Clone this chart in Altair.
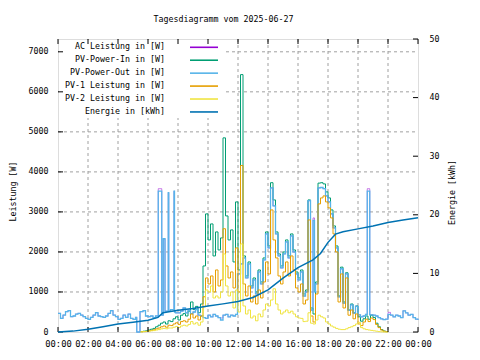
import altair as alt
import pandas as pd

title_text = "Tagesdiagramm vom 2025-06-27"
legend_labels = ["AC Leistung in [W]", "PV-Power-In in [W]", "PV-Power-Out in [W]",
                 "PV-1 Leistung in [W]", "PV-2 Leistung in [W]", "Energie in [kWh]"]
colors = ["#9400d3", "#009e73", "#56b4e9", "#e69f00", "#f0e442", "#0072b2"]

x_ticks = [0, 2, 4, 6, 8, 10, 12, 14, 16, 18, 20, 22, 24]
x_grid = [2, 4, 6, 8, 10, 12, 14, 16, 18, 20, 22]
w_ticks = [0, 1000, 2000, 3000, 4000, 5000, 6000, 7000]
w_grid = [1000, 2000, 3000, 4000, 5000, 6000, 7000]
e_ticks = [0, 10, 20, 30, 40, 50]

# PV-Power-Out / AC (W), irregular time stamps
out_times = [
    "00:00", "00:10", "00:20", "00:30", "00:40", "00:50",
    "01:00", "01:10", "01:20", "01:30", "01:40", "01:50",
    "02:00", "02:10", "02:20", "02:30", "02:40", "02:50",
    "03:00", "03:10", "03:20", "03:30", "03:40", "03:50",
    "04:00", "04:10", "04:20", "04:30", "04:40", "04:50",
    "05:00", "05:10", "05:15", "05:28", "05:40", "05:50",
    "06:00", "06:10", "06:20", "06:30", "06:41", "06:55",
    "07:01", "07:08", "07:21", "07:23", "07:30", "07:44", "07:46", "07:50",
    "08:00", "08:10", "08:20", "08:30", "08:40", "08:50",
    "09:00", "09:10", "09:20", "09:30", "09:40", "09:50",
    "10:00", "10:10", "10:20", "10:30", "10:40", "10:50",
    "11:00", "11:10", "11:20", "11:30", "11:40", "11:50", "11:58",
    "12:10", "12:20", "12:30", "12:40", "12:50",
    "13:00", "13:10", "13:20", "13:30", "13:40", "13:50",
    "14:00", "14:10", "14:20", "14:30", "14:40", "14:50",
    "15:00", "15:10", "15:20", "15:30", "15:40", "15:50",
    "16:00", "16:10", "16:20", "16:30", "16:40", "16:50",
    "17:00", "17:06", "17:10", "17:20", "17:30", "17:40", "17:50",
    "18:00", "18:10", "18:20", "18:30", "18:40", "18:50",
    "19:00", "19:10", "19:20", "19:30", "19:40", "19:50",
    "20:00", "20:10", "20:20", "20:30", "20:37", "20:47",
    "21:00", "21:10", "21:20", "21:30", "21:40", "21:50",
    "22:00", "22:10", "22:20", "22:30", "22:40", "22:50",
    "23:00", "23:10", "23:20", "23:30", "23:40", "23:50",
    "24:00",
]
pv_out = [
    466, 341, 424, 507, 532, 382,
    400, 449, 466, 424, 382, 341,
    316, 366, 424, 482, 400, 382,
    366, 400, 466, 532, 424, 382,
    316, 341, 424, 366, 449, 341,
    316, 366, 0, 507, 532, 400,
    382, 400, 360, 400, 3520, 420,
    2330, 520, 3480, 520, 560, 3520, 500, 480,
    480, 520, 600, 480, 540, 460,
    500, 560, 420, 400, 360, 340,
    420, 380, 440, 400, 360, 300,
    420, 440, 380, 420, 400, 440, 1450,
    1700, 1850, 1350, 1700, 1100,
    1300, 950, 1500, 1200, 1800, 2450,
    2100, 3600, 3150, 2450, 1900, 1600,
    1950, 2250, 1850, 2400, 2000, 1450,
    1300, 1500, 900, 1000, 3280, 550,
    2790, 1000, 1200, 3600, 3610, 3580, 3400,
    3250, 2950, 2600, 2100, 880, 1580,
    720, 1450, 540, 680, 470, 640,
    430, 380, 400, 440, 3520, 430,
    420, 400, 360, 330, 310, 320,
    440, 420, 380, 420, 400, 360,
    530, 480, 420, 440, 360, 320,
    300,
]
ac_power = [
    466, 341, 424, 507, 532, 382,
    400, 449, 466, 424, 382, 341,
    316, 366, 424, 482, 400, 382,
    366, 400, 466, 532, 424, 382,
    316, 341, 424, 366, 449, 341,
    316, 366, 0, 507, 532, 400,
    382, 400, 360, 400, 3580, 420,
    2330, 520, 3480, 520, 560, 3520, 500, 480,
    480, 520, 600, 480, 540, 460,
    500, 560, 420, 400, 360, 340,
    420, 380, 440, 400, 360, 350,
    420, 440, 380, 420, 400, 440, 1450,
    1700, 1850, 1350, 1700, 1100,
    1300, 950, 1500, 1200, 1800, 2450,
    2100, 3600, 3150, 2450, 1900, 1600,
    1950, 2250, 1850, 2400, 2000, 1450,
    1300, 1500, 900, 1000, 3280, 550,
    2850, 1000, 1200, 3600, 3610, 3580, 3400,
    3250, 2950, 2600, 2100, 880, 1580,
    720, 1450, 540, 680, 470, 640,
    430, 380, 400, 440, 3580, 430,
    420, 400, 360, 330, 310, 320,
    490, 420, 380, 420, 400, 360,
    530, 480, 420, 440, 360, 320,
    300,
]

# PV series (W), 10-minute steps from 05:30 to 22:00
pv_times = (["05:30", "05:40", "05:50"]
            + [f"{h:02d}:{m:02d}" for h in range(6, 22) for m in (0, 10, 20, 30, 40, 50)]
            + ["22:00"])
pv_in = [
    10, 20, 30,
    50, 70, 90, 130, 170, 220,
    250, 200, 280, 260, 330, 380,
    300, 420, 460, 400, 520, 750,
    560, 640, 480, 700, 1650, 2950,
    2300, 2700, 1900, 2500, 2050, 2350,
    4850, 2900, 2300, 2550, 1750, 3250,
    1550, 6430, 1900, 1400, 1750, 1150,
    1350, 1000, 1550, 1250, 1850, 2500,
    2150, 3730, 3300, 2500, 1950, 1650,
    2000, 2300, 1900, 2450, 2050, 1500,
    1350, 1550, 950, 1050, 3300, 600,
    450, 1250, 3720, 3730, 3700, 3500,
    3350, 3050, 2650, 2150, 900, 1620,
    750, 1480, 550, 700, 480, 650,
    380, 270, 330, 400, 320, 420,
    360, 220, 130, 60, 25, 10,
    0,
]
pv1 = [
    5, 10, 15,
    30, 40, 55, 80, 100, 130,
    150, 120, 170, 160, 200, 230,
    190, 260, 280, 250, 320, 450,
    350, 400, 300, 400, 880, 1350,
    1200, 1400, 1000, 1550, 1150, 1300,
    2580, 1650, 1350, 1500, 1100, 2100,
    1000, 4160, 1200, 900, 1150, 750,
    900, 700, 1050, 850, 1250, 1750,
    1450, 3050, 2300, 1850, 1400, 1200,
    1500, 1750, 1400, 1900, 1550, 1100,
    1000, 1200, 700, 800, 2800, 400,
    250, 950, 3200, 3350, 3400, 3250,
    3100, 2850, 2450, 2000, 750, 1450,
    600, 1350, 420, 550, 330, 450,
    200, 160, 250, 320, 260, 350,
    310, 190, 110, 50, 20, 8,
    0,
]
pv2 = [
    5, 10, 15,
    20, 30, 35, 50, 60, 80,
    90, 80, 100, 100, 120, 140,
    110, 150, 170, 150, 190, 260,
    200, 230, 170, 250, 630, 1050,
    1000, 1150, 850, 900, 850, 1000,
    1950, 1150, 900, 1000, 600, 1050,
    500, 2200, 650, 450, 550, 350,
    400, 280, 450, 380, 550, 700,
    650, 800, 1080, 700, 550, 450,
    500, 550, 480, 520, 450, 380,
    350, 340, 260, 270, 480, 220,
    200, 300, 420, 380, 350, 250,
    200, 150, 120, 90, 70, 60,
    60, 80, 110, 130, 160, 200,
    240, 110, 80, 60, 50, 40,
    30, 20, 10, 5, 0, 0,
    0,
]

# Energie (kWh)
energy_times = ["00:00", "01:00", "02:00", "03:00", "04:00", "05:00", "06:00", "06:40",
                "07:00", "07:30", "08:00", "09:00", "10:00", "11:00", "12:00", "13:00",
                "14:00", "15:00", "16:00", "17:00", "17:30", "18:00", "18:30", "19:00",
                "20:00", "21:00", "22:00", "23:00", "24:00"]
energy = [0.0, 0.15, 0.45, 0.9, 1.35, 1.65, 2.0, 2.5,
          3.3, 3.5, 3.7, 4.0, 4.45, 4.8, 5.2, 5.9,
          7.2, 9.2, 11.0, 12.3, 13.4, 15.3, 16.7, 17.1,
          17.6, 18.1, 18.7, 19.1, 19.5]


def to_h(t):
    h, m = t.split(":")
    return int(h) + int(m) / 60.0


def frame(times, values):
    return pd.DataFrame({"t": [to_h(t) for t in times], "v": values})


FONT = "DejaVu Sans Mono"
W, H = 360, 293
GRID = "#a0a0a0"

x_axis = alt.Axis(values=x_ticks, grid=False, ticks=False, domain=False,
                  labelExpr="(datum.value % 24 < 10 ? '0' : '') + (datum.value % 24) + ':00'",
                  labelFont=FONT, labelFontSize=8.8, labelColor="black", labelPadding=7,
                  labelFlush=False, labelOverlap=False, title=None)
w_axis = alt.Axis(values=w_ticks, grid=False, ticks=False, domain=False, format="d",
                  labelFont=FONT, labelFontSize=8.3, labelColor="black", labelPadding=10,
                  title="Leistung [W]", titleFont=FONT, titleFontSize=8.3, titleFontWeight="normal",
                  titleColor="black", titleAngle=270, titleAlign="center", titleBaseline="middle",
                  titleX=-45, titleY=152)
e_axis = alt.Axis(values=e_ticks, orient="right", grid=False, ticks=False, domain=False, format="d",
                  labelFont=FONT, labelFontSize=8.3, labelColor="black", labelPadding=11,
                  title="Energie [kWh]", titleFont=FONT, titleFontSize=8.3, titleFontWeight="normal",
                  titleColor="black", titleAngle=270, titleAlign="center", titleBaseline="middle",
                  titleX=34, titleY=153)

X = alt.X("t:Q", scale=alt.Scale(domain=[0, 24], nice=False, zero=False), axis=x_axis)
Y = alt.Y("v:Q", scale=alt.Scale(domain=[0, 7320], nice=False), axis=w_axis)
YE = alt.Y("v:Q", scale=alt.Scale(domain=[0, 50], nice=False), axis=e_axis)

one = pd.DataFrame({"t": [0]})

grid_x = alt.Chart(pd.DataFrame({"t": x_grid})).mark_rule(
    color=GRID, strokeDash=[3, 3], strokeWidth=1).encode(x=X, y=alt.value(0), y2=alt.value(H))
grid_y = alt.Chart(pd.DataFrame({"v": w_grid})).mark_rule(
    color=GRID, strokeDash=[3, 3], strokeWidth=1).encode(y=Y, x=alt.value(0), x2=alt.value(W))
legend_box = alt.Chart(one).mark_rect(color="white").encode(
    x=alt.value(1), x2=alt.value(166), y=alt.value(1), y2=alt.value(79))


def series(times, values, color, width=1.0):
    return alt.Chart(frame(times, values)).mark_line(
        color=color, strokeWidth=width, interpolate="step-after").encode(x=X, y=Y)


ac_line = series(out_times, ac_power, colors[0], 0.5)
in_line = series(pv_times, pv_in, colors[1])
out_line = series(out_times, pv_out, colors[2], 1.3)
pv1_line = series(pv_times, pv1, colors[3])
pv2_line = series(pv_times, pv2, colors[4])

tick_left = alt.Chart(pd.DataFrame({"v": w_ticks})).mark_rule(color="black").encode(
    y=Y, x=alt.value(0), x2=alt.value(5))
tick_bottom = alt.Chart(pd.DataFrame({"t": x_ticks})).mark_rule(color="black").encode(
    x=X, y=alt.value(H), y2=alt.value(H - 5))
tick_top = alt.Chart(pd.DataFrame({"t": x_ticks})).mark_rule(color="black").encode(
    x=X, y=alt.value(0), y2=alt.value(5))

power = alt.layer(grid_x, grid_y, legend_box, ac_line, in_line, out_line, pv1_line, pv2_line,
                  tick_left, tick_bottom, tick_top)

energy_line = alt.Chart(frame(energy_times, energy)).mark_line(
    color=colors[5], strokeWidth=1.5).encode(x=X, y=YE)
tick_right = alt.Chart(pd.DataFrame({"v": e_ticks})).mark_rule(color="black").encode(
    y=YE, x=alt.value(W - 5), x2=alt.value(W))
energy_group = alt.layer(energy_line, tick_right)

legend_layers = []
for i, lab in enumerate(legend_labels):
    yy = 8.3 + 12.93 * i
    legend_layers.append(alt.Chart(one).mark_text(
        text=lab, font=FONT, fontSize=8.3, align="right", baseline="middle", color="black"
    ).encode(x=alt.value(107), y=alt.value(yy)))
    legend_layers.append(alt.Chart(one).mark_rule(color=colors[i], strokeWidth=1.6).encode(
        x=alt.value(132), x2=alt.value(160), y=alt.value(yy)))

chart = alt.layer(power, energy_group, *legend_layers).resolve_scale(y="independent").properties(
    width=W, height=H,
    title=alt.TitleParams(title_text, anchor="middle", frame="group", dx=-14.5, offset=2,
                          font=FONT, fontSize=8.3, fontWeight="normal", color="black",
                          baseline="bottom"),
    padding={"left": 50, "top": 31, "right": 54, "bottom": 20},
    autosize=alt.AutoSizeParams(type="none"),
).configure_view(stroke="black", strokeWidth=1).configure(background="white")

chart.save("out.html", embed_options={"renderer": "svg", "actions": False})
